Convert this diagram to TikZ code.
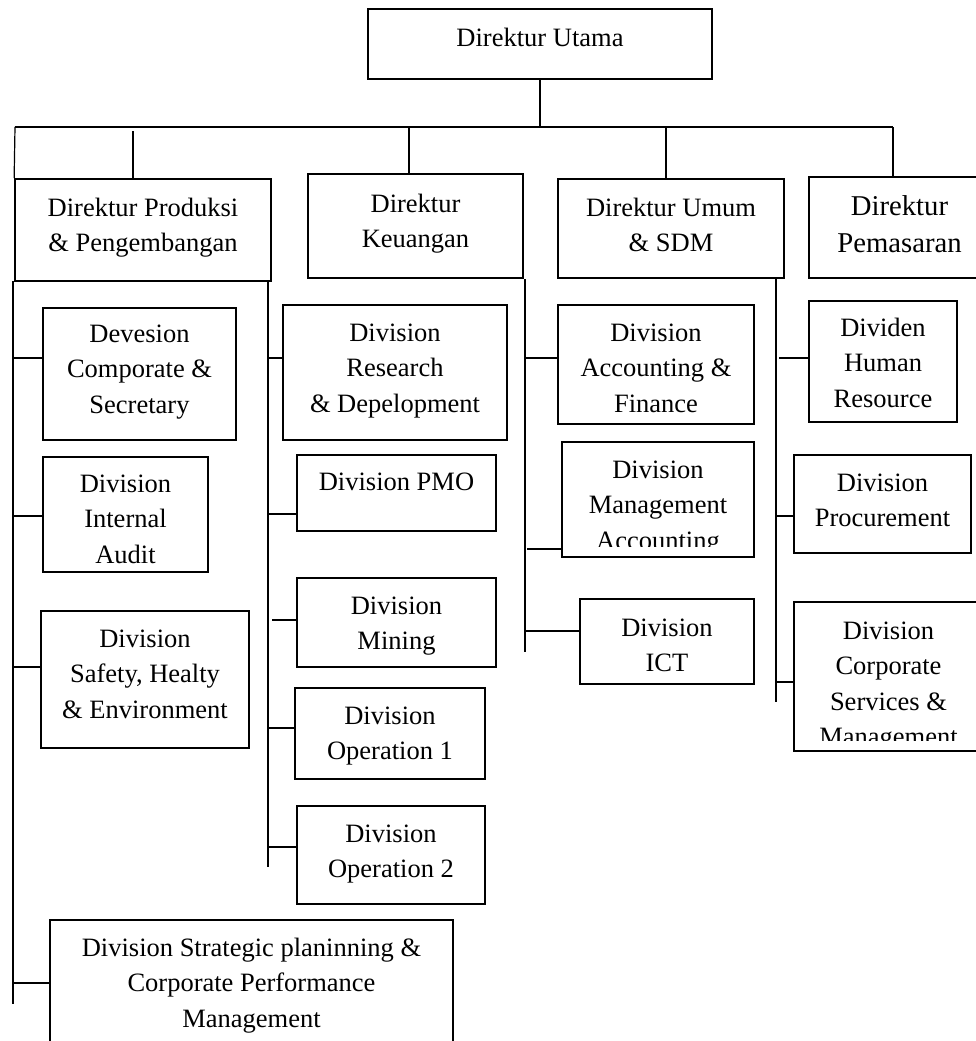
\documentclass[tikz,border=0pt]{standalone}
\usepackage{fontspec}
\setmainfont{Liberation Serif}
\usetikzlibrary{fit}
\begin{document}
\begin{tikzpicture}[x=1pt,y=-1pt,
  box/.style={draw, line width=1.7pt, inner sep=0pt, rectangle},
  conn/.style={line width=1.2pt},
  txt/.style={align=center, inner sep=0pt, anchor=north, font=\fontsize{26.5}{35.5}\selectfont},
  bigtxt/.style={align=center, inner sep=0pt, anchor=north, font=\fontsize{28.7}{37}\selectfont}]
\useasboundingbox (0,0) rectangle (976,1041);

% boxes
\node[box, fit={(368,9) (712,79)}] (utama) {};
\node[box, fit={(15,179) (271,281)}] (prod) {};
\node[box, fit={(308,174) (523,278)}] (keu) {};
\node[box, fit={(558,179) (784,278)}] (umum) {};
\node[box, fit={(809,177) (990,278)}] (pem) {};
\node[box, fit={(43,308) (236,440)}] (dev) {};
\node[box, fit={(283,305) (507,440)}] (res) {};
\node[box, fit={(558,305) (754,424)}] (acc) {};
\node[box, fit={(809,301) (957,422)}] (divhr) {};
\node[box, fit={(43,457) (208,572)}] (aud) {};
\node[box, fit={(297,455) (496,531)}] (pmo) {};
\node[box, fit={(562,442) (754,557)}] (mgt) {};
\node[box, fit={(794,455) (971,553)}] (proc) {};
\node[box, fit={(297,578) (496,667)}] (min) {};
\node[box, fit={(41,611) (249,748)}] (saf) {};
\node[box, fit={(295,688) (485,779)}] (opa) {};
\node[box, fit={(297,806) (485,904)}] (opb) {};
\node[box, fit={(50,920) (453,1060)}] (str) {};
\node[box, fit={(580,599) (754,684)}] (ict) {};
\node[box, fit={(794,602) (983,751)}] (cs) {};

% texts
\node[txt] (utama-t) at (540,21) {\strut Direktur Utama};
\node[txt] (prod-t) at (143,191) {\strut Direktur Produksi\\\& Pengembangan};
\node[txt] (keu-t) at (415.5,187) {\strut Direktur\\Keuangan};
\node[txt] (umum-t) at (671,191) {\strut Direktur Umum\\\& SDM};
\node[bigtxt] (pem-t) at (899.5,189.6) {\strut Direktur\\Pemasaran};
\node[txt] (dev-t) at (139.5,317) {\strut Devesion\\Comporate \&\\Secretary};
\node[txt] (res-t) at (395,316) {\strut Division\\Research\\\& Depelopment};
\node[txt] (acc-t) at (656,316) {\strut Division\\Accounting \&\\Finance};
\node[txt] (divhr-t) at (883,311) {\strut Dividen\\Human\\Resource};
\begin{scope}
\clip (43,457) rectangle (208,565);
\node[txt] (aud-t) at (125.5,467) {\strut Division\\Internal\\Audit};
\end{scope}
\node[txt] (pmo-t) at (396.5,465) {\strut Division PMO};
\begin{scope}
\clip (562,442) rectangle (754,546);
\node[txt] (mgt-t) at (658,453) {\strut Division\\Management\\Accounting};
\end{scope}
\node[txt] (proc-t) at (882.5,466) {\strut Division\\Procurement};
\node[txt] (min-t) at (396.5,589) {\strut Division\\Mining};
\node[txt] (saf-t) at (145,622) {\strut Division\\Safety, Healty\\\& Environment};
\node[txt] (opa-t) at (390,699) {\strut Division\\Operation 1};
\node[txt] (opb-t) at (391,817) {\strut Division\\Operation 2};
\node[txt] (str-t) at (251.5,931) {\strut Division Strategic planinning \&\\Corporate Performance\\Management};
\node[txt] (ict-t) at (667,611) {\strut Division\\ICT};
\begin{scope}
\clip (794,602) rectangle (983,740);
\node[txt] (cs-t) at (888.5,614) {\strut Division\\Corporate\\Services \&\\Management};
\end{scope}

% top bus
\coordinate (busL) at (15,127);
\coordinate (busR) at (893,127);
\coordinate (busU) at (540,127);
\coordinate (d1) at (133,131);
\coordinate (d2) at (409,127);
\coordinate (d3) at (666,127);
\draw[conn] (utama.south) -- (busU);
\draw[conn] (busL) -- (busR);
\draw[conn] (busL) -- (prod.north west);
\draw[conn] (d1) -- (d1 |- prod.north);
\draw[conn] (d2) -- (d2 |- keu.north);
\draw[conn] (d3) -- (d3 |- umum.north);
\draw[conn] (busR) -- (busR |- pem.north);

% spines
\coordinate (s1t) at (13,281);   \coordinate (s1b) at (13,1004);
\coordinate (s2t) at (268,281);  \coordinate (s2b) at (268,867);
\coordinate (s3t) at (525,279);  \coordinate (s3b) at (525,652);
\coordinate (s4t) at (776,278);  \coordinate (s4b) at (776,702);
\draw[conn] (s1t) -- (s1b);
\draw[conn] (s2t) -- (s2b);
\draw[conn] (s3t) -- (s3b);
\draw[conn] (s4t) -- (s4b);

% branches
\coordinate (b11) at (13,358);
\coordinate (b12) at (13,516);
\coordinate (b13) at (13,667);
\coordinate (b14) at (13,983);
\coordinate (b21) at (268,358);
\coordinate (b22) at (268,514);
\coordinate (b23) at (272,620);
\coordinate (b24) at (268,728);
\coordinate (b25) at (268,847);
\coordinate (b31) at (525,358);
\coordinate (b32) at (527,549);
\coordinate (b33) at (525,631);
\coordinate (b41) at (779,358);
\coordinate (b42) at (776,516);
\coordinate (b43) at (777,682);
\draw[conn] (b11) -- (b11 -| dev.west);
\draw[conn] (b12) -- (b12 -| aud.west);
\draw[conn] (b13) -- (b13 -| saf.west);
\draw[conn] (b14) -- (b14 -| str.west);
\draw[conn] (b21) -- (b21 -| res.west);
\draw[conn] (b22) -- (b22 -| pmo.west);
\draw[conn] (b23) -- (b23 -| min.west);
\draw[conn] (b24) -- (b24 -| opa.west);
\draw[conn] (b25) -- (b25 -| opb.west);
\draw[conn] (b31) -- (b31 -| acc.west);
\draw[conn] (b32) -- (b32 -| mgt.west);
\draw[conn] (b33) -- (b33 -| ict.west);
\draw[conn] (b41) -- (b41 -| divhr.west);
\draw[conn] (b42) -- (b42 -| proc.west);
\draw[conn] (b43) -- (b43 -| cs.west);
\end{tikzpicture}
\end{document}
